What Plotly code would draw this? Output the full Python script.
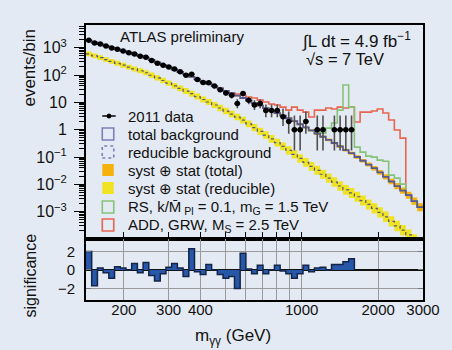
import numpy as np
import plotly.graph_objects as go

# ---------------- binning and axis labels ----------------
MASS_EDGES = [142.0, 149.5, 157.5, 165.8, 174.6, 183.9, 193.6, 203.9, 214.7, 226.1,
              238.1, 250.7, 264.0, 278.1, 292.8, 308.3, 324.7, 341.9, 360.1, 379.2,
              399.3, 420.4, 442.8, 466.2, 491.0, 517.0, 544.5, 573.3, 603.7, 635.8,
              669.5, 705.0, 742.4, 781.8, 823.3, 867.0, 913.0, 961.4, 1012.4, 1066.1,
              1122.7, 1182.2, 1244.9, 1311.0, 1380.5, 1453.8, 1530.9, 1612.1, 1697.6, 1787.7,
              1882.5, 1982.4, 2087.6, 2198.3, 2314.9, 2437.7, 2567.1, 2703.2, 2846.6, 2997.7]

X_TICKS = [200, 300, 400, 500, 600, 700, 800, 900, 1000, 2000, 3000]
X_LABEL_TICKS = [200, 300, 400, 1000, 2000, 3000]
X_LABEL_TEXT = ["200", "300", "400", "1000", "2000", "3000"]
X_GRID_EXTRA = [500, 600, 700, 800, 900]
Y_TICKS = [1e-3, 1e-2, 1e-1, 1, 10, 100, 1000]
Y_TICK_TEXT = ["10<sup>−3</sup>", "10<sup>−2</sup>", "10<sup>−1</sup>", "1", "10",
               "10<sup>2</sup>", "10<sup>3</sup>"]
SIG_TICKS = [-2, 0, 2]
SIG_TICK_TEXT = ["−2", "0", "2"]

# ---------------- expectations (events / bin) ----------------
TOTAL_BKG = [1790, 1550, 1343, 1164, 1009, 874, 757, 656, 573, 497,
             430, 354, 290, 236, 193, 158, 129, 105, 86, 70,
             57, 48, 39.5, 32.3, 26.4, 21.5, 17.6, 14.4, 11.6, 9.4,
             7.6, 6.1, 5.0, 4.0, 3.26, 2.62, 2.05, 1.58, 1.21, 0.935,
             0.714, 0.55, 0.423, 0.326, 0.245, 0.179, 0.138, 0.100, 0.073, 0.053,
             0.039, 0.0273, 0.0187, 0.0127, 0.0086, 0.0059, 0.0040, 0.00243, 0.00146]
TOTAL_REL_ERR = [0.04, 0.04, 0.04, 0.04, 0.04, 0.04, 0.04, 0.04, 0.04, 0.04,
                 0.04, 0.04, 0.05, 0.05, 0.05, 0.05, 0.05, 0.05, 0.05, 0.05,
                 0.06, 0.06, 0.06, 0.06, 0.06, 0.06, 0.07, 0.07, 0.07, 0.07,
                 0.07, 0.08, 0.08, 0.08, 0.08, 0.08, 0.09, 0.09, 0.10, 0.10,
                 0.11, 0.11, 0.12, 0.12, 0.13, 0.13, 0.14, 0.15, 0.17, 0.19,
                 0.21, 0.23, 0.25, 0.27, 0.29, 0.31, 0.34, 0.37, 0.40]

REDUCIBLE_BKG = [593, 505, 430, 366, 315, 268, 229, 195, 167, 143,
                 121, 98, 79, 63, 50.5, 40.2, 32.3, 25.9, 20.7, 16.3,
                 12.7, 10.3, 8.0, 6.2, 4.8, 3.73, 2.90, 2.25, 1.63, 1.19,
                 0.867, 0.634, 0.460, 0.337, 0.245, 0.175, 0.125, 0.089, 0.0634, 0.0453,
                 0.0326, 0.0234, 0.0169, 0.0121, 0.0087, 0.0063, 0.00484, 0.00352, 0.00255, 0.00184,
                 0.00133, 0.00094, 0.00065, 0.00044, 0.00030, 0.00021, 0.000141, 0.000096, 0.000065]
REDUCIBLE_REL_ERR = [0.22, 0.22, 0.22, 0.22, 0.22, 0.23, 0.23, 0.23, 0.24, 0.24,
                     0.24, 0.25, 0.25, 0.26, 0.26, 0.27, 0.27, 0.28, 0.28, 0.29,
                     0.29, 0.30, 0.30, 0.31, 0.31, 0.32, 0.32, 0.33, 0.34, 0.35,
                     0.36, 0.37, 0.38, 0.39, 0.40, 0.41, 0.42, 0.43, 0.44, 0.45,
                     0.46, 0.47, 0.48, 0.49, 0.50, 0.51, 0.52, 0.52, 0.53, 0.53,
                     0.54, 0.54, 0.55, 0.55, 0.56, 0.56, 0.57, 0.57, 0.58]

# background + signal, starting at the given bin index
RS_FIRST_BIN = 38
RS_TOTAL = [1.21, 0.935, 0.82, 0.75, 1.14, 1.75, 5.2, 43, 6.7, 0.23,
            0.151, 0.108, 0.099, 0.077, 0.07, 0.0217, 0.0169, 0.0102, 0.0040, 0.00243,
            0.00146]
ADD_FIRST_BIN = 23
ADD_TOTAL = [32.3, 26.4, 22, 20.1, 18.5, 15.6, 14.4, 12.1, 10.3, 8.7,
             8.0, 6.7, 5.2, 6.7, 5.2, 4.4, 2.9, 5.2, 5.2, 6.2,
             5.7, 6.7, 6.2, 6.7, 1.9, 4.4, 4.4, 4.8, 5.7, 4.06,
             2.25, 0.97, 0.49, 0.0040, 0.00243, 0.00146]

# ---------------- observed ----------------
DATA_COUNTS = [1875, 1483, 1350, 1154, 980, 884, 763, 656, 590, 490,
               447, 343, 270, 230, 197, 167, 131, 98, 107, 68,
               53, 52, 40, 29, 22, 18, 9, 21, 12, 8,
               9, 5, 5, 5, 3, 2, 1, 1, 2, 0,
               1, 1, 0, 1, 1, 1, 1]
SIGNIFICANCE = [2.0, -1.7, 0.2, -0.3, -0.9, 0.35, 0.2, 0.0, 0.7, -0.3,
                0.8, -0.6, -1.2, -0.4, 0.3, 0.7, 0.2, -0.7, 2.3, -0.2,
                -0.5, 0.6, 0.0, -0.5, -0.9, -0.7, -2.0, 1.8, 0.1, -0.4,
                0.5, -0.4, 0.0, 0.5, -0.1, -0.4, -0.9, -0.4, 0.5, -0.2,
                0.2, 0.3, 0.0, 0.6, 0.6, 0.9, 1.2]

# Garwood 68% intervals for small counts
POISSON_LOW = {1: 0.173, 2: 0.708, 3: 1.367, 4: 2.086, 5: 2.840, 6: 3.620,
               7: 4.419, 8: 5.232, 9: 6.057, 10: 6.891}
POISSON_HIGH = {1: 3.300, 2: 4.638, 3: 5.918, 4: 7.163, 5: 8.382, 6: 9.584,
                7: 10.77, 8: 11.95, 9: 13.11, 10: 14.27}

# ---------------- styling ----------------
BG = "#e4eaf3"
FONT = "Liberation Sans, Arial, Helvetica, sans-serif"
C_TOTAL = "#5a598e"
C_TOTAL_BOX = "#7d80b8"
C_RED = "#e8654f"
C_GREEN = "#84c477"
C_YELLOW = "#efe323"
C_ORANGE = "#f5b20c"
C_DOT = "#55587a"
C_SIG_FILL = "#2657a8"
C_SIG_LINE = "#15254a"

edges = np.array(MASS_EDGES)
centers = np.sqrt(edges[:-1] * edges[1:])


def step_xy(values, first=0):
    """x/y arrays for an 'hv' step outline over consecutive bins."""
    vals = list(values)
    x = list(edges[first:first + len(vals) + 1])
    y = vals + [vals[-1]]
    return x, y


fig = go.Figure()

# --- reducible background band + central line
red_b = np.array(REDUCIBLE_BKG)
red_f = 1 + np.array(REDUCIBLE_REL_ERR)
x, y_lo = step_xy(red_b / red_f)
_, y_hi = step_xy(red_b * red_f)
fig.add_trace(go.Scatter(x=x, y=y_lo, mode="lines", line=dict(width=0, shape="hv"),
                         showlegend=False, xaxis="x", yaxis="y"))
fig.add_trace(go.Scatter(x=x, y=y_hi, mode="lines", line=dict(width=0, shape="hv"),
                         fill="tonexty", fillcolor=C_YELLOW, showlegend=False,
                         xaxis="x", yaxis="y"))
x, y = step_xy(REDUCIBLE_BKG)
fig.add_trace(go.Scatter(x=x, y=y, mode="lines",
                         line=dict(color=C_DOT, width=1.2, dash="dot", shape="hv"),
                         showlegend=False, xaxis="x", yaxis="y"))

# --- total background band
tot_b = np.array(TOTAL_BKG)
tot_f = 1 + np.array(TOTAL_REL_ERR)
x, y_lo = step_xy(tot_b / tot_f)
_, y_hi = step_xy(tot_b * tot_f)
fig.add_trace(go.Scatter(x=x, y=y_lo, mode="lines", line=dict(width=0, shape="hv"),
                         showlegend=False, xaxis="x", yaxis="y"))
fig.add_trace(go.Scatter(x=x, y=y_hi, mode="lines", line=dict(width=0, shape="hv"),
                         fill="tonexty", fillcolor=C_ORANGE, showlegend=False,
                         xaxis="x", yaxis="y"))

# --- signal hypotheses (background + signal)
x, y = step_xy(ADD_TOTAL, ADD_FIRST_BIN)
fig.add_trace(go.Scatter(x=x, y=y, mode="lines",
                         line=dict(color=C_RED, width=1.6, shape="hv"),
                         showlegend=False, xaxis="x", yaxis="y"))
x, y = step_xy(RS_TOTAL, RS_FIRST_BIN)
fig.add_trace(go.Scatter(x=x, y=y, mode="lines",
                         line=dict(color=C_GREEN, width=1.6, shape="hv"),
                         showlegend=False, xaxis="x", yaxis="y"))

# --- total background
x, y = step_xy(TOTAL_BKG)
fig.add_trace(go.Scatter(x=x, y=y, mode="lines",
                         line=dict(color=C_TOTAL, width=1.8, shape="hv"),
                         showlegend=False, xaxis="x", yaxis="y"))

# --- data points
counts = np.array(DATA_COUNTS, dtype=float)
nb = len(counts)
keep = counts > 0
lo_e = edges[:nb][keep]
hi_e = edges[1:nb + 1][keep]
cx = centers[:nb][keep]
cy = counts[keep]
err_up, err_dn = [], []
for n in cy:
    k = int(n)
    if k in POISSON_LOW:
        err_dn.append(n - POISSON_LOW[k])
        err_up.append(POISSON_HIGH[k] - n)
    else:
        err_dn.append(np.sqrt(n))
        err_up.append(np.sqrt(n))
fig.add_trace(go.Scatter(
    x=cx, y=cy, mode="markers",
    marker=dict(color="black", size=5.5),
    error_x=dict(type="data", symmetric=False, array=hi_e - cx, arrayminus=cx - lo_e,
                 color="black", thickness=1.5, width=0),
    error_y=dict(type="data", symmetric=False, array=err_up, arrayminus=err_dn,
                 color="#505050", thickness=1.6, width=0),
    showlegend=False, xaxis="x", yaxis="y"))

# --- significance panel
ns = len(SIGNIFICANCE)
sx = list(edges[:ns]) + [edges[ns], edges[ns]]
sy = list(SIGNIFICANCE) + [SIGNIFICANCE[-1], 0]
fig.add_trace(go.Scatter(x=sx, y=sy, mode="lines", fill="tozeroy",
                         fillcolor=C_SIG_FILL,
                         line=dict(color=C_SIG_LINE, width=1.5, shape="hv"),
                         showlegend=False, xaxis="x2", yaxis="y2"))

# ---------------- layout ----------------
PL, PT, PW, PH = 86, 25, 352, 275
W, H = 452, 350
SPLIT = 61 / PH


def px(xp):
    return (xp - PL) / PW


def py(yp):
    return (PT + PH - yp) / PH


x_range = [np.log10(142), np.log10(3000)]
minor_y = [d * 10.0 ** k for k in range(-4, 4) for d in range(2, 10) if d * 10.0 ** k < 6800]

fig.update_layout(
    width=W, height=H,
    margin=dict(l=PL, r=W - PL - PW, t=PT, b=H - PT - PH, pad=0),
    paper_bgcolor=BG, plot_bgcolor=BG,
    font=dict(family=FONT, color="#111111", size=15),
    showlegend=False,
    xaxis=dict(type="log", range=x_range, anchor="y", domain=[0, 1],
               tickmode="array", tickvals=X_TICKS, showticklabels=False,
               ticks="inside", ticklen=7, tickwidth=1.2, tickcolor="black",
               showgrid=False, zeroline=False,
               showline=True, mirror=True, linecolor="black", linewidth=2),
    yaxis=dict(type="log", range=[-4.0, 3.83], domain=[SPLIT, 1], anchor="x",
               tickmode="array", tickvals=Y_TICKS, ticktext=Y_TICK_TEXT,
               ticks="outside", ticklen=10, tickwidth=1.2, tickcolor="black",
               tickfont=dict(size=16), ticklabelstandoff=4,
               minor=dict(tickmode="array", tickvals=minor_y, ticks="outside",
                          ticklen=5, tickwidth=1, tickcolor="black", showgrid=False),
               showgrid=False, zeroline=False,
               showline=True, mirror=True, linecolor="black", linewidth=2),
    xaxis2=dict(type="log", range=x_range, anchor="y2", domain=[0, 1], matches="x",
                tickmode="array", tickvals=X_LABEL_TICKS, ticktext=X_LABEL_TEXT,
                ticks="", ticklen=0, tickfont=dict(size=15), ticklabelstandoff=-5,
                ticklabeloverflow="allow",
                minor=dict(tickmode="array", tickvals=X_GRID_EXTRA, ticks="",
                           showgrid=True, gridcolor="#9a9a9a", gridwidth=1),
                showgrid=True, gridcolor="#9a9a9a", gridwidth=1, zeroline=False,
                showline=True, mirror=True, linecolor="black", linewidth=2),
    yaxis2=dict(range=[-3.25, 3.35], domain=[0, SPLIT], anchor="x2",
                tickmode="array", tickvals=SIG_TICKS, ticktext=SIG_TICK_TEXT,
                ticks="inside", ticklen=5, tickcolor="#777777",
                tickfont=dict(size=15), ticklabelstandoff=6,
                showgrid=True, gridcolor="#9a9a9a", gridwidth=1,
                zeroline=True, zerolinecolor="#111111", zerolinewidth=1.5,
                showline=True, mirror="ticks", linecolor="black", linewidth=2),
)

annotations = []


def text(t, xp, yp, size=15, xanchor="left", angle=0):
    annotations.append(dict(text=t, x=px(xp), y=py(yp), xref="paper", yref="paper",
                            xanchor=xanchor, yanchor="middle", showarrow=False,
                            textangle=angle, font=dict(size=size, family=FONT, color="#111111")))


text("ATLAS preliminary", 186, 37, xanchor="center")
text("∫L dt = 4.9 fb<sup>−1</sup>", 310, 40, size=17)
text("√s = 7 TeV", 314, 59, size=16.5)
text("events/bin", 26, 68, size=17, xanchor="center", angle=-90)
text("significance", 27, 276, size=16, xanchor="center", angle=-90)
text("m<sub>γγ</sub> (GeV)", 240, 337, size=17, xanchor="center")

# legend
LEG_X = 128
rows = [116, 134, 152, 170, 188, 207, 225]
labels = ["2011 data", "total background", "reducible background",
          "syst ⊕ stat (total)", "syst ⊕ stat (reducible)",
          "RS, k/M\u0304<sub> Pl</sub> = 0.1, m<sub>G</sub> = 1.5 TeV",
          "ADD, GRW, M<sub>S</sub> = 2.5 TeV"]
for r, lab in zip(rows, labels):
    text(lab, LEG_X, r)

shapes = []
bx0, bx1, hh = 103, 115, 6


def box(yc, line=None, fill=None, dash="solid"):
    shapes.append(dict(type="rect", xref="paper", yref="paper",
                       x0=px(bx0), x1=px(bx1), y0=py(yc + hh), y1=py(yc - hh),
                       line=dict(color=line or "rgba(0,0,0,0)", width=1.6 if line else 0, dash=dash),
                       fillcolor=fill or "rgba(0,0,0,0)"))


shapes.append(dict(type="line", xref="paper", yref="paper",
                   x0=px(103), x1=px(117), y0=py(rows[0]), y1=py(rows[0]),
                   line=dict(color="black", width=1.5)))
shapes.append(dict(type="circle", xref="paper", yref="paper",
                   x0=px(107.5), x1=px(112.5), y0=py(rows[0] + 2.5), y1=py(rows[0] - 2.5),
                   fillcolor="black", line=dict(color="black", width=0)))
box(rows[1], line=C_TOTAL_BOX)
box(rows[2], line=C_TOTAL_BOX, dash="dot")
box(rows[3], fill=C_ORANGE)
box(rows[4], fill=C_YELLOW)
box(rows[5], line=C_GREEN)
box(rows[6], line=C_RED)

fig.update_layout(annotations=annotations, shapes=shapes)
fig.write_html("out.html")
